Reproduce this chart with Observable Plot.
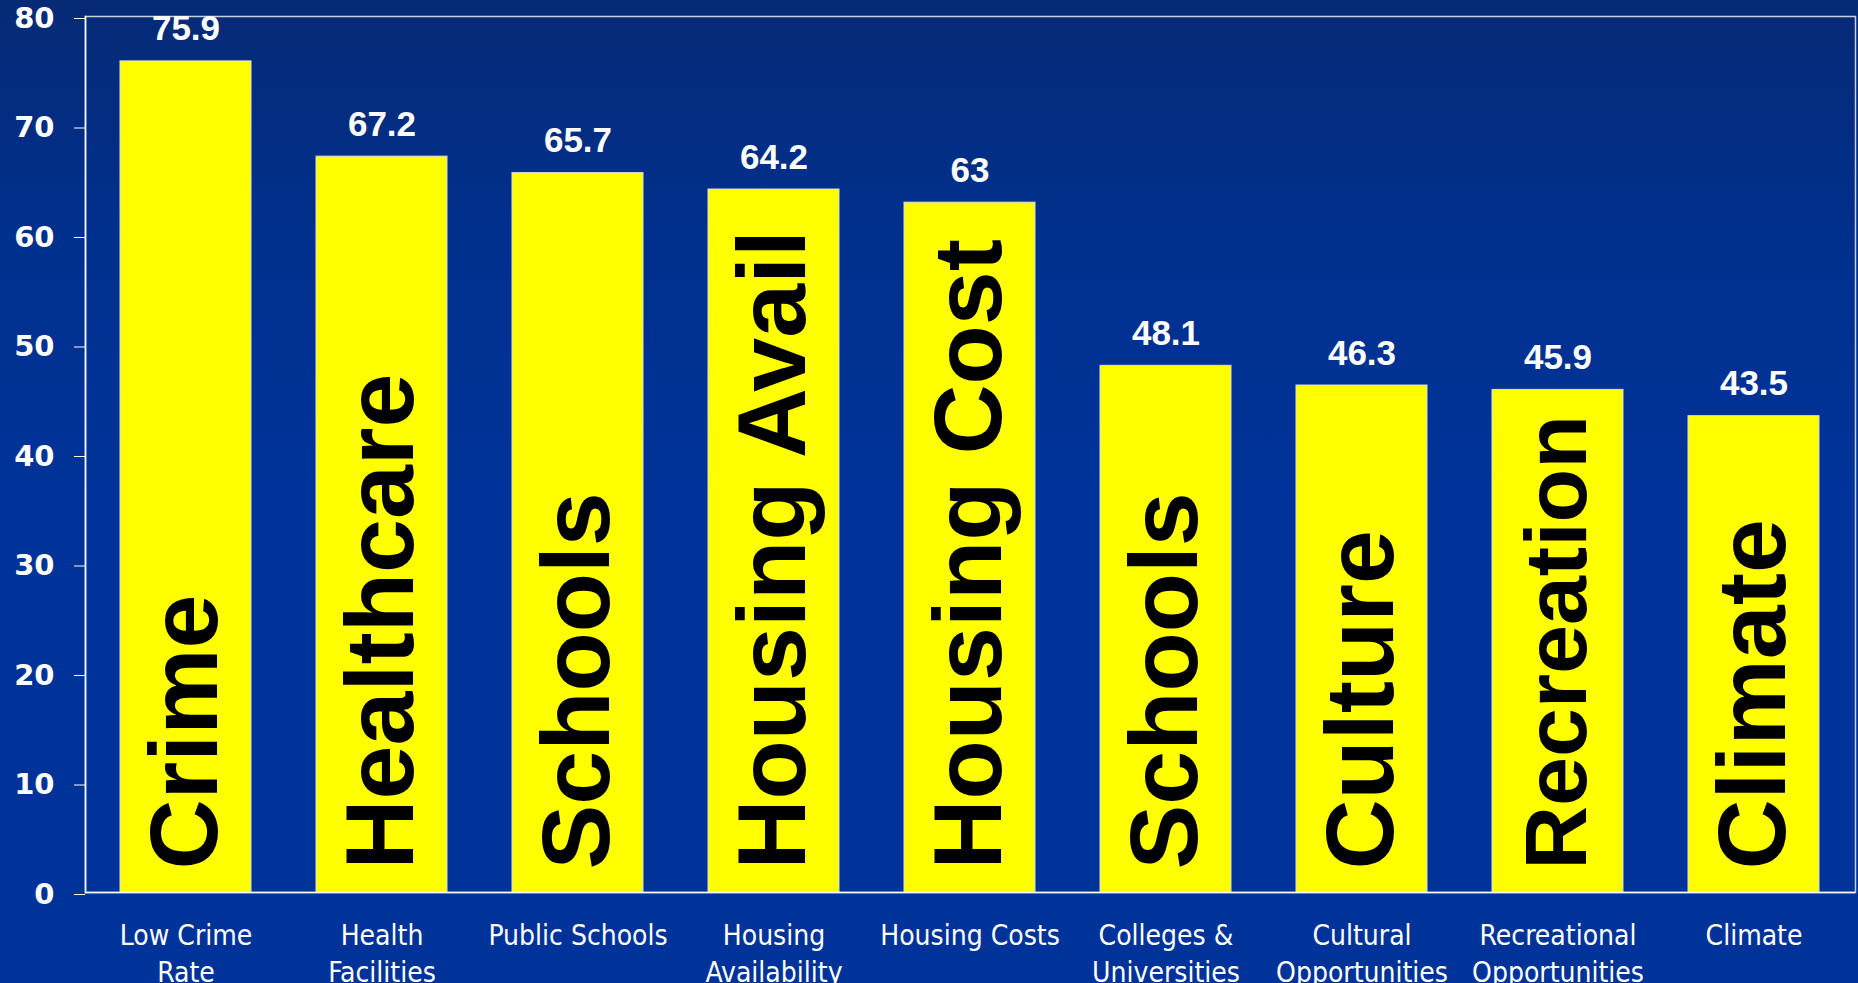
<!DOCTYPE html>
<html>
<head>
<meta charset="utf-8">
<script src="https://cdn.jsdelivr.net/npm/d3@7"></script>
<script src="https://cdn.jsdelivr.net/npm/@observablehq/plot@0.6"></script>
<style>
  html, body { margin: 0; padding: 0; }
  body {
    width: 1858px; height: 983px; overflow: hidden;
    background: linear-gradient(180deg, #062a76 0%, #00308e 25%, #003399 50%, #003399 100%);
  }
  #chart svg { display: block; background: transparent; }
</style>
</head>
<body>
<div id="chart"></div>
<script>
// Data
const categories = ["Low Crime Rate", "Health Facilities", "Public Schools", "Housing Availability", "Housing Costs", "Colleges & Universities", "Cultural Opportunities", "Recreational Opportunities", "Climate"];
const tickLabels = ["Low Crime\nRate", "Health\nFacilities", "Public Schools", "Housing\nAvailability", "Housing Costs", "Colleges &\nUniversities", "Cultural\nOpportunities", "Recreational\nOpportunities", "Climate"];
const values = [75.9, 67.2, 65.7, 64.2, 63, 48.1, 46.3, 45.9, 43.5];
const barLabels = ["Crime", "Healthcare", "Schools", "Housing Avail", "Housing Cost", "Schools", "Culture", "Recreation", "Climate"];
const yTicks = [0, 10, 20, 30, 40, 50, 60, 70, 80];

const data = categories.map((c, i) => ({category: c, value: values[i], inner: barLabels[i]}));
const tickMap = new Map(categories.map((c, i) => [c, tickLabels[i]]));

// Layout
const W = 1858, H = 983, mL = 85, mR = 3, mT = 16, mB = 91;
const innerFont = "'Liberation Sans', Arial, sans-serif";
const yPx = (H - mT - mB) / 80; // pixels per unit, for fitting labels inside bars
const ctx = document.createElement("canvas").getContext("2d");
ctx.font = `bold 100px ${innerFont}`;
const emWidth = s => ctx.measureText(s).width / 100;
const innerSize = d => Math.min(97, (d.value * yPx - 48) / emWidth(d.inner));

const chart = Plot.plot({
  width: W,
  height: H,
  marginLeft: mL,
  marginRight: mR,
  marginTop: mT,
  marginBottom: mB,
  style: {background: "transparent", overflow: "visible"},
  x: {domain: categories, paddingInner: 0.33, paddingOuter: 0.165, label: null},
  y: {domain: [0, 80], label: null},
  marks: [
    Plot.frame({stroke: "#c8cfe0", strokeWidth: 1.5}),
    Plot.frame({anchor: "left", stroke: "#ffffff", strokeWidth: 1.5}),
    Plot.barY(data, {x: "category", y: "value", fill: "#ffff00", stroke: "#d8dce8", strokeWidth: 1}),
    Plot.text(data, {
      x: "category", y: 0, text: "inner", rotate: -90, textAnchor: "start", lineAnchor: "middle",
      dy: -23, fontSize: innerSize, fontWeight: "bold", fill: "#000000",
      fontFamily: innerFont
    }),
    Plot.text(data, {
      x: "category", y: "value", text: d => String(d.value), lineAnchor: "bottom",
      dy: -21, fontSize: 35, fontWeight: "bold", fill: "#ffffff",
      fontFamily: "'Liberation Sans', Arial, sans-serif"
    }),
    Plot.axisY({
      ticks: yTicks, tickSize: 11, tickPadding: 20, stroke: "#ffffff", color: "#ffffff",
      fontSize: 29, fontWeight: "bold", fontFamily: "'DejaVu Sans', sans-serif", label: null, dy: 2
    }),
    Plot.axisX({
      tickSize: 0, tickPadding: 27, color: "#ffffff", lineHeight: 1.3,
      tickFormat: d => tickMap.get(d), textOverflow: null, lineWidth: Infinity,
      fontSize: 28, fontFamily: "'Liberation Sans Narrow', 'DejaVu Sans Condensed', sans-serif", label: null
    }),
    Plot.ruleY([0], {stroke: "#ffffff", strokeWidth: 1.5})
  ]
});
document.getElementById("chart").appendChild(chart);
</script>
</body>
</html>
